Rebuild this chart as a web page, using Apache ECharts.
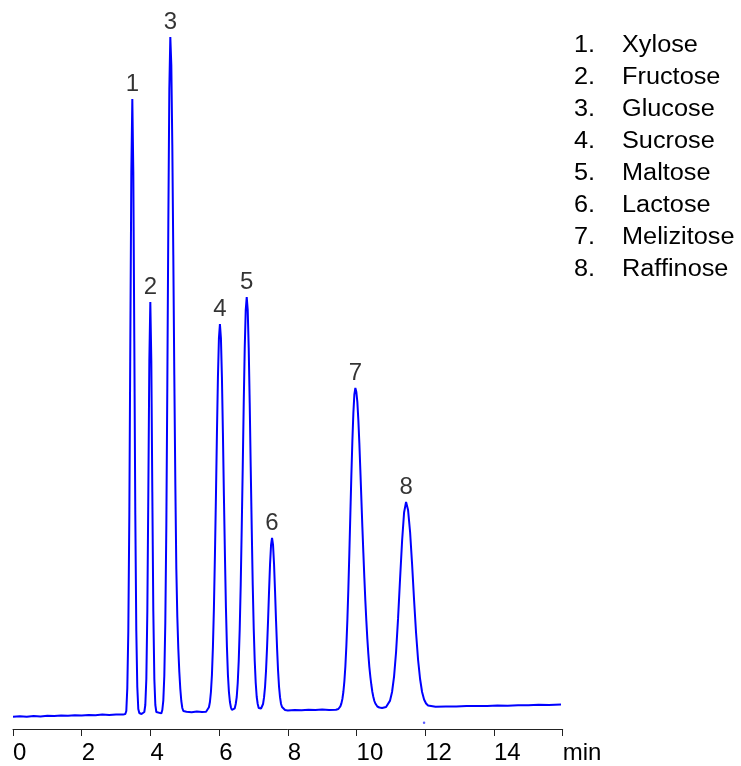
<!DOCTYPE html>
<html>
<head>
<meta charset="utf-8">
<script src="https://cdn.jsdelivr.net/npm/echarts@6/dist/echarts.min.js"></script>
<style>
html,body{margin:0;padding:0;background:#fff;}
#chart{width:741px;height:766px;}
</style>
</head>
<body>
<div id="chart"></div>
<script>
// Chromatogram trace: retention time (min) and detector signal (arbitrary units)
const traceTime = [
  0.0,0.2,0.4,0.6,0.8,1.0,1.2,1.4,1.6,1.8,2.0,2.2,2.4,2.6,2.8,3.0,3.2,
  3.269,3.298,3.327,3.356,3.386,3.415,3.444,3.473,3.502,3.531,3.560,3.589,3.618,3.647,3.676,3.741,
  3.822,3.851,3.881,3.910,3.939,3.968,3.997,4.026,4.055,4.084,4.114,4.143,4.172,4.22,
  4.317,4.346,4.375,4.404,4.433,4.463,4.492,4.521,4.550,4.579,
  4.608,4.637,4.666,4.695,4.725,4.754,4.783,4.812,4.841,4.870,4.899,4.928,4.958,
  5.05,5.20,5.35,5.50,5.62,
  5.674,5.703,5.732,5.761,5.790,5.819,5.848,5.877,5.907,5.936,5.965,5.994,6.023,
  6.052,6.081,6.110,6.139,6.169,6.198,6.227,6.256,6.285,6.314,6.343,6.372,6.41,
  6.454,6.483,6.512,6.541,6.570,6.599,6.628,6.657,6.687,6.716,6.745,6.774,6.803,
  6.832,6.861,6.890,6.919,6.949,6.978,7.007,7.036,7.065,7.094,7.123,7.152,7.191,
  7.220,7.249,7.278,7.307,7.336,7.365,7.394,7.424,7.453,7.482,7.511,7.540,
  7.569,7.598,7.627,7.656,7.686,7.715,7.744,7.773,7.802,7.831,7.860,7.918,
  8.0,8.2,8.4,8.6,8.8,9.0,9.2,9.4,
  9.470,9.499,9.528,9.557,9.587,9.616,9.645,9.674,9.703,9.732,9.761,9.790,9.819,9.848,9.878,9.907,9.936,9.965,
  9.994,10.023,10.052,10.081,10.110,10.140,10.169,10.198,10.227,10.256,10.285,10.314,10.343,10.372,10.402,10.431,10.460,10.489,10.518,10.547,10.605,10.664,10.722,10.743,10.80,
  10.859,10.917,10.975,11.033,11.092,11.150,11.208,11.266,11.325,11.383,11.441,
  11.499,11.558,11.616,11.674,11.732,11.791,11.849,11.907,11.965,12.023,12.082,12.140,
  12.3,12.6,12.9,13.2,13.5,13.8,14.1,14.4,14.7,15.0,15.3,15.6,15.95
];
const traceSignal = [
  12.3,12.7,12.2,12.9,12.6,13.2,12.9,13.5,13.2,13.8,13.5,14.1,13.8,14.4,14.1,14.6,14.4,
  15,18,41,97,214,388,557,630,557,388,214,98,42,20,16,15,
  17,24,50,118,237,368,427,368,237,118,50,24,17,15.3,
  15.6,19,28.4,53,106,203,345,506,640,692,
  664,584,474,354,245,160,112,80,57,40,28,21,18,
  17.2,16.8,17.4,16.9,17.3,
  19,21.7,27,37,54,82,121,173,233,296,352,391,405,
  391,352,296,233,173,121,82,54,37,27,21.7,19,17.5,
  20.7,25,32,46,68,100,144,200,262,326,381,419,432,
  419,381,326,262,200,144,100,68,46,32,25,21,20.5,
  20.5,22,25,31.6,42,58.5,81,108.5,138,165,184,191,
  184,165,138,108.5,81,58.5,42,31.6,25,22,20.2,19,
  18.6,19.1,18.7,19.3,18.9,19.4,19.0,19.3,
  20,21,22.6,25.4,30,37,47.6,62.5,83,108.5,140,176,214.5,253,288,316,334.6,341,
  337,327,309,286,259,230,202,176,151,128,108,90,75,62,52,44,37,32,28,25.5,22.5,21.5,21,21,21.2,
  22,24,28.4,37,52.7,77,110.6,150,188,216.5,227,
  219,197,165,129,96,69,50,37,29.5,25.5,23.5,22.5,
  22.3,22.6,22.4,22.9,23.1,22.9,23.5,23.3,23.8,23.7,24.2,24.0,24.5
];
// Small stray point below the baseline
const strayPoint = [11.965, 6.3];

// Peak annotations
const peakNumbers = ['1','2','3','4','5','6','7','8'];
const peakTimes   = [3.473, 3.997, 4.579, 6.023, 6.803, 7.540, 9.965, 11.441];
const peakHeights = [630, 427, 692, 405, 432, 191, 341, 227];
const compoundNames = ['Xylose','Fructose','Glucose','Sucrose','Maltose','Lactose','Melizitose','Raffinose'];

// Axis
const xMin = 0, xMax = 16, xStep = 2;
const xUnitLabel = 'min';

const FONT = '"Liberation Sans", Arial, sans-serif';

const chart = echarts.init(document.getElementById('chart'));

const lineData = traceTime.map((t, i) => [t, traceSignal[i]]);
const peakData = peakTimes.map((t, i) => ({ value: [t, peakHeights[i]], label: { formatter: peakNumbers[i] } }));

const legendGraphics = [];
peakNumbers.forEach((n, i) => {
  const y = 47 + i * 32;
  legendGraphics.push({
    type: 'text', left: 574, top: y - 13, scaleX: 1.1,
    style: { text: n + '.', font: '23px ' + FONT, fill: '#000' }
  });
  legendGraphics.push({
    type: 'text', left: 622, top: y - 13, scaleX: 1.1,
    style: { text: compoundNames[i], font: '23px ' + FONT, fill: '#000' }
  });
});

chart.setOption({
  animation: false,
  backgroundColor: '#fff',
  grid: { left: 13, right: 178.3, top: 29, bottom: 37 },
  xAxis: {
    type: 'value', min: xMin, max: xMax, interval: xStep,
    axisLine: { show: true, lineStyle: { color: '#222', width: 1 } },
    axisTick: { show: true, length: 7, lineStyle: { color: '#222', width: 1 } },
    splitLine: { show: false },
    axisLabel: {
      margin: 12, align: 'left', color: '#000',
      fontSize: 24, fontFamily: FONT,
      formatter: v => (v === xMax ? xUnitLabel : String(v))
    }
  },
  yAxis: { type: 'value', min: 0, max: 700, show: false },
  series: [
    {
      type: 'line', data: lineData, showSymbol: false, clip: false,
      lineStyle: { color: '#0000ff', width: 2 }, z: 3
    },
    {
      type: 'scatter', data: [strayPoint], symbolSize: 2.5,
      itemStyle: { color: '#3333ff' }
    },
    {
      type: 'scatter', data: peakData, symbolSize: 0,
      label: {
        show: true, position: 'top', distance: 3, color: '#000',
        fontSize: 24, fontFamily: FONT
      }
    }
  ],
  graphic: legendGraphics
});
</script>
</body>
</html>
